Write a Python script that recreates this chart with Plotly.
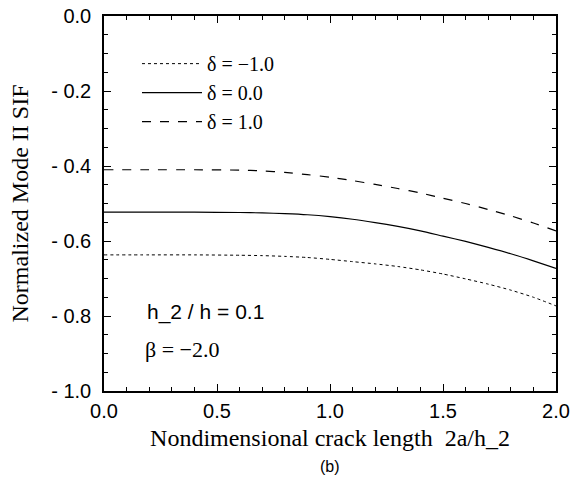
import plotly.graph_objects as go

x_vals = [0.0, 0.2, 0.4, 0.6, 0.7, 0.8, 0.9, 1.0, 1.1, 1.2, 1.3, 1.4, 1.5, 1.6, 1.7, 1.8, 1.9, 2.0]
sif_dm1 = [-0.637, -0.637, -0.637, -0.638, -0.639, -0.641, -0.644, -0.649, -0.655, -0.661, -0.668, -0.677, -0.688, -0.701, -0.715, -0.731, -0.750, -0.773]
sif_d0 = [-0.523, -0.523, -0.523, -0.524, -0.525, -0.527, -0.530, -0.535, -0.542, -0.551, -0.561, -0.573, -0.587, -0.601, -0.617, -0.634, -0.653, -0.673]
sif_d1 = [-0.410, -0.410, -0.410, -0.411, -0.413, -0.417, -0.423, -0.430, -0.439, -0.449, -0.460, -0.472, -0.486, -0.500, -0.516, -0.533, -0.552, -0.573]
series_names = ["δ = −1.0", "δ = 0.0", "δ = 1.0"]
dash_styles = ["dot", "solid", "dash"]

y_tickvals = [0.0, -0.2, -0.4, -0.6, -0.8, -1.0]
y_ticktext = ["0.0", "- 0.2", "- 0.4", "- 0.6", "- 0.8", "- 1.0"]
x_tickvals = [0.0, 0.5, 1.0, 1.5, 2.0]
x_ticktext = ["0.0", "0.5", "1.0", "1.5", "2.0"]

SERIF = "Liberation Serif, Times New Roman, serif"
SANS = "Liberation Sans, Arial, sans-serif"

fig = go.Figure()
for name, ys, dsh in zip(series_names, [sif_dm1, sif_d0, sif_d1], dash_styles):
    fig.add_trace(go.Scatter(
        x=x_vals, y=ys, mode="lines", name=name,
        line=dict(color="black", width=1.2 if dsh != "dot" else 1.0, dash=dsh, shape="spline", smoothing=0.6),
    ))

axis_common = dict(
    showline=True, linecolor="black", linewidth=1.5, mirror="allticks",
    ticks="inside", ticklen=7, tickwidth=1.2, tickcolor="black",
    showgrid=False, zeroline=False, automargin=False,
    ticklabeloverflow="allow",
    tickfont=dict(family=SANS, size=20, color="black"),
)
fig.update_xaxes(
    range=[0, 2.0], tickvals=x_tickvals, ticktext=x_ticktext,
    ticklabelstandoff=1,
    minor=dict(dtick=0.1, ticks="inside", ticklen=4, tickcolor="black", tickwidth=1),
    title=dict(text="Nondimensional crack length  2a/h_2", font=dict(family=SERIF, size=24, color="black"), standoff=8),
    **axis_common,
)
fig.update_yaxes(
    range=[-1.0, 0.0], tickvals=y_tickvals, ticktext=y_ticktext,
    ticklabelstandoff=7,
    minor=dict(dtick=0.05, ticks="inside", ticklen=4, tickcolor="black", tickwidth=1),
    title=dict(text="Normalized Mode II SIF", font=dict(family=SERIF, size=24, color="black"), standoff=16),
    **axis_common,
)

fig.add_annotation(x=0.091, y=0.212, xref="paper", yref="paper", text="h_2 / h = 0.1",
                   showarrow=False, xanchor="left", yanchor="middle",
                   font=dict(family=SANS, size=21, color="black"))
fig.add_annotation(x=0.086, y=0.112, xref="paper", yref="paper", text="β = −2.0",
                   showarrow=False, xanchor="left", yanchor="middle",
                   font=dict(family=SERIF, size=22, color="black"))
fig.add_annotation(x=0.5, y=-0.2, xref="paper", yref="paper", text="(b)",
                   showarrow=False, xanchor="center", yanchor="middle",
                   font=dict(family=SANS, size=16, color="black"))

fig.update_layout(
    width=572, height=489,
    margin=dict(l=104, r=16, t=16, b=98),
    paper_bgcolor="white", plot_bgcolor="white",
    showlegend=True,
    legend=dict(x=0.073, y=0.925, xanchor="left", yanchor="top",
                bgcolor="rgba(0,0,0,0)", borderwidth=0,
                font=dict(family=SERIF, size=20, color="black"),
                itemwidth=60, tracegroupgap=0),
)

fig.write_html("out.html",
               config={"displayModeBar": False},
               post_script="document.body.style.margin='0';document.body.style.overflow='hidden';")
